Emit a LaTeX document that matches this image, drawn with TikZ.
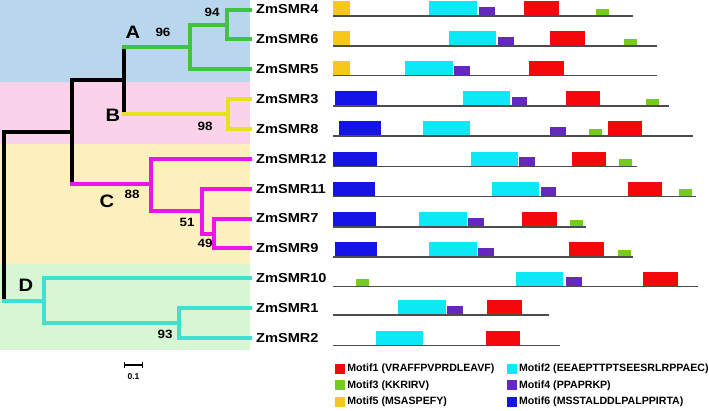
\documentclass[tikz,border=0pt]{standalone}
\usepackage{fontspec}
\setmainfont{Liberation Sans}
\usepackage{graphicx}
\usetikzlibrary{arrows.meta, positioning}
\definecolor{bandA}{RGB}{184,214,236}
\definecolor{bandB}{RGB}{250,210,234}
\definecolor{bandC}{RGB}{253,239,190}
\definecolor{bandD}{RGB}{214,246,212}
\definecolor{cladeAc}{RGB}{64,196,64}
\definecolor{cladeBc}{RGB}{232,226,30}
\definecolor{cladeCc}{RGB}{236,20,236}
\definecolor{cladeDc}{RGB}{64,224,208}
\definecolor{motif1}{RGB}{245,8,10}
\definecolor{motif2}{RGB}{12,232,245}
\definecolor{motif3}{RGB}{115,205,25}
\definecolor{motif4}{RGB}{100,40,190}
\definecolor{motif5}{RGB}{245,200,25}
\definecolor{motif6}{RGB}{20,20,230}
\def\st#1{\scalebox{1.12}[1]{#1}}
\newcommand{\motif}[4]{\pgfmathsetmacro\mh{{15,15,7.5,9.5,15,15}[#1-1]}\fill[motif#1] (#2,#4) rectangle (#3,#4-\mh);}
\tikzset{
  leaf/.style={anchor=west, inner xsep=6pt, inner ysep=0pt, font=\bfseries\fontsize{13}{13}\selectfont},
  boot/.style={font=\bfseries\fontsize{12}{12}\selectfont, inner sep=0pt},
  cladename/.style={font=\bfseries\fontsize{18}{18}\selectfont, inner sep=0pt},
  tree/.style={line width=4pt, line cap=rect},
  root/.style={tree, black},
  cladeA/.style={tree, cladeAc},
  cladeB/.style={tree, cladeBc},
  cladeC/.style={tree, cladeCc},
  cladeD/.style={tree, cladeDc},
  seqline/.style={line width=1.5pt, black!70},
  key/.style={minimum size=10pt, inner sep=0pt},
  keytext/.style={inner sep=0pt, font=\bfseries\fontsize{10.6}{10.6}\selectfont}
}

\begin{document}
\begin{tikzpicture}[x=1pt,y=-1pt]
\useasboundingbox[fill=white] (0,0) rectangle (709,410);

% clade bands
\fill[bandA] (0,0) rectangle (250,82);
\fill[bandB] (0,82) rectangle (250,144);
\fill[bandC] (0,144) rectangle (250,264);
\fill[bandD] (0,264) rectangle (250,350);

% leaves
\node[leaf] (l4) at (250, 9.5) {\st{ZmSMR4}};
\node[leaf] (l6) at (250, 39.4) {\st{ZmSMR6}};
\node[leaf] (l5) at (250, 69.2) {\st{ZmSMR5}};
\node[leaf] (l3) at (250, 99.1) {\st{ZmSMR3}};
\node[leaf] (l8) at (250, 128.9) {\st{ZmSMR8}};
\node[leaf] (l12) at (250, 158.8) {\st{ZmSMR12}};
\node[leaf] (l11) at (250, 188.7) {\st{ZmSMR11}};
\node[leaf] (l7) at (250, 218.5) {\st{ZmSMR7}};
\node[leaf] (l9) at (250, 248.4) {\st{ZmSMR9}};
\node[leaf] (l10) at (250, 278.2) {\st{ZmSMR10}};
\node[leaf] (l1) at (250, 308.1) {\st{ZmSMR1}};
\node[leaf] (l2) at (250, 338) {\st{ZmSMR2}};

% inner nodes
\coordinate (n94) at (227,24.5);
\coordinate (n96) at (190,46.8);
\coordinate (nA) at (124,46.8);
\coordinate (n98) at (228,114);
\coordinate (nB) at (124,114);
\coordinate (nAB) at (124,80);
\coordinate (nC) at (72,184);
\coordinate (nABC) at (72,132);
\coordinate (nRD) at (4,300.5);
\coordinate (n49) at (214,233.5);
\coordinate (n51) at (202,211);
\coordinate (n88) at (151,184);
\coordinate (n93) at (179,323);
\coordinate (nD) at (44,300.5);

% branches
\draw[root] (nA) -- (nB);
\draw[root] (nAB) -| (nC);
\draw[root] (nABC) -| (nRD);
\draw[cladeA] (l4.west) -| (n94) |- (l6.west);
\draw[cladeA] (n94) -| (n96) |- (l5.west);
\draw[cladeA] (n96) -- (nA);
\draw[cladeB] (l3.west) -| (n98) |- (l8.west);
\draw[cladeB] (n98) -- (nB);
\draw[cladeC] (l7.west) -| (n49) |- (l9.west);
\draw[cladeC] (l11.west) -| (n51) |- (n49);
\draw[cladeC] (l12.west) -| (n88) |- (n51);
\draw[cladeC] (n88) -- (nC);
\draw[cladeD] (l1.west) -| (n93) |- (l2.west);
\draw[cladeD] (l10.west) -| (nD) |- (n93);
\draw[cladeD] (nD) -- (nRD);

% bootstrap values and clade names
\node[boot] at (212,12) {\st{94}};
\node[boot] at (163,32) {\st{96}};
\node[boot] at (205,126) {\st{98}};
\node[boot] at (132,194) {\st{88}};
\node[boot] at (187,222) {\st{51}};
\node[boot] at (205,243) {\st{49}};
\node[boot] at (165,334) {\st{93}};
\node[cladename] at (133,32) {\st{A}};
\node[cladename] at (113,115) {\st{B}};
\node[cladename] at (107,201) {\st{C}};
\node[cladename] at (26,285) {\st{D}};

% scale bar
\coordinate (sb1) at (124,365);
\coordinate (sb2) at (143,365);
\draw[line width=1.2pt, {Bar[width=6pt]}-{Bar[width=6pt]}] (sb1) -- (sb2);
\node[font=\bfseries\fontsize{8.5}{8.5}\selectfont] at (133.5,377) {0.1};

% motif rows
\foreach \c/\a/\b in {5/333/350, 2/429/477, 4/479/495, 1/524/559, 3/596/609} {\motif{\c}{\a}{\b}{16}}
\draw[seqline] (333,16) -- (633,16);
\foreach \c/\a/\b in {5/333/350, 2/449/496, 4/498/514, 1/550/585, 3/624/637} {\motif{\c}{\a}{\b}{46}}
\draw[seqline] (333,46) -- (657,46);
\foreach \c/\a/\b in {5/333/350, 2/405/453, 4/454/470, 1/529/564} {\motif{\c}{\a}{\b}{75.5}}
\draw[seqline] (333,75.5) -- (657,75.5);
\foreach \c/\a/\b in {6/335/377, 2/463/510, 4/512/527, 1/566/600, 3/646/659} {\motif{\c}{\a}{\b}{106}}
\draw[seqline] (333,106) -- (669,106);
\foreach \c/\a/\b in {6/339/381, 2/423/470, 4/550/566, 3/589/602, 1/608/642} {\motif{\c}{\a}{\b}{136}}
\draw[seqline] (333,136) -- (693,136);
\foreach \c/\a/\b in {6/333/377, 2/471/518, 4/519/535, 1/572/606, 3/619/632} {\motif{\c}{\a}{\b}{166.5}}
\draw[seqline] (333,166.5) -- (637,166.5);
\foreach \c/\a/\b in {6/333/375, 2/492/539, 4/541/556, 1/628/662, 3/679/692} {\motif{\c}{\a}{\b}{196.5}}
\draw[seqline] (333,196.5) -- (696,196.5);
\foreach \c/\a/\b in {6/333/376, 2/419/467, 4/468/484, 1/522/557, 3/570/583} {\motif{\c}{\a}{\b}{227}}
\draw[seqline] (333,227) -- (586,227);
\foreach \c/\a/\b in {6/335/377, 2/429/477, 4/478/494, 1/569/604, 3/618/631} {\motif{\c}{\a}{\b}{257}}
\draw[seqline] (333,257) -- (633,257);
\foreach \c/\a/\b in {3/356/369, 2/516/563, 4/566/582, 1/643/678} {\motif{\c}{\a}{\b}{286.5}}
\draw[seqline] (333,286.5) -- (698,286.5);
\foreach \c/\a/\b in {2/398/446, 4/447/463, 1/487/522} {\motif{\c}{\a}{\b}{315}}
\draw[seqline] (333,315) -- (549,315);
\foreach \c/\a/\b in {2/376/423, 1/486/520} {\motif{\c}{\a}{\b}{345.5}}
\draw[seqline] (333,345.5) -- (560,345.5);

% legend
\node[key, fill=motif1] (k1) at (340,368.7) {};
\node[keytext, right=2pt of k1] {Motif1 (VRAFFPVPRDLEAVF)};
\node[key, fill=motif3] (k3) at (340,385.3) {};
\node[keytext, right=2pt of k3] {Motif3 (KKRIRV)};
\node[key, fill=motif5] (k5) at (340,402) {};
\node[keytext, right=2pt of k5] {Motif5 (MSASPEFY)};
\node[key, fill=motif2] (k2) at (511.7,368.7) {};
\node[keytext, right=2pt of k2] {Motif2 (EEAEPTTPTSEESRLRPPAEC)};
\node[key, fill=motif4] (k4) at (511.7,385.3) {};
\node[keytext, right=2pt of k4] {Motif4 (PPAPRKP)};
\node[key, fill=motif6] (k6) at (511.7,402) {};
\node[keytext, right=2pt of k6] {Motif6 (MSSTALDDLPALPPIRTA)};
\end{tikzpicture}
\end{document}
